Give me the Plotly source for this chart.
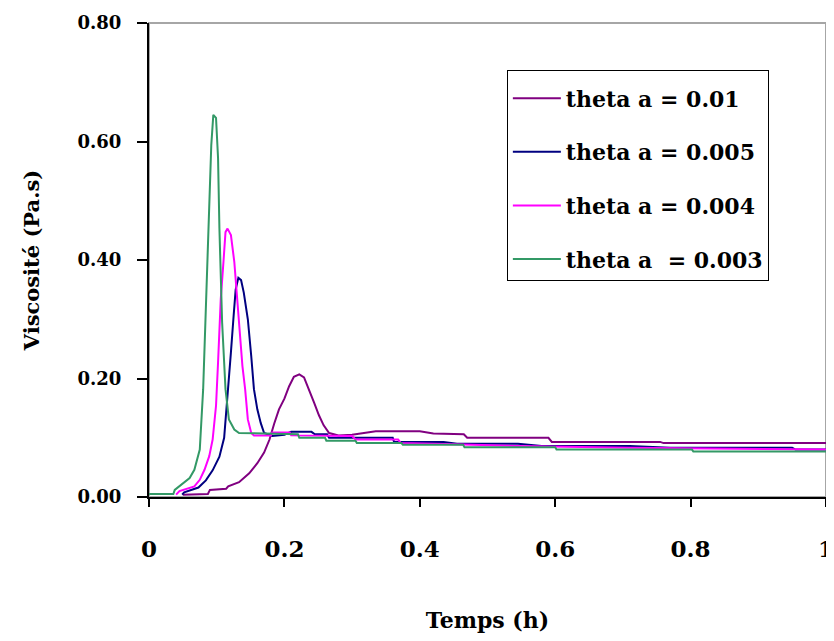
import plotly.graph_objects as go

# ---- data ----
x_001 = [0.050, 0.087, 0.090, 0.114, 0.117, 0.133, 0.148, 0.160, 0.170, 0.178, 0.185, 0.192,
         0.200, 0.207, 0.214, 0.222, 0.229, 0.236, 0.244, 0.251, 0.258, 0.266, 0.280, 0.300,
         0.315, 0.335, 0.400, 0.420, 0.465, 0.470, 0.590, 0.595, 0.755, 0.760, 1.000]
y_001 = [0.004, 0.005, 0.012, 0.014, 0.018, 0.025, 0.040, 0.057, 0.075, 0.097, 0.124, 0.148,
         0.166, 0.187, 0.203, 0.207, 0.202, 0.183, 0.159, 0.138, 0.121, 0.108, 0.104, 0.105,
         0.108, 0.111, 0.111, 0.107, 0.106, 0.100, 0.100, 0.093, 0.093, 0.091, 0.091]

x_0005 = [0.049, 0.052, 0.073, 0.084, 0.094, 0.104, 0.111, 0.116, 0.121, 0.125, 0.128, 0.132,
          0.136, 0.140, 0.146, 0.151, 0.155, 0.160, 0.165, 0.170, 0.182, 0.200, 0.210, 0.240,
          0.245, 0.263, 0.266, 0.360, 0.362, 0.435, 0.455, 0.545, 0.580, 0.710, 0.770, 0.950,
          0.955, 1.000]
y_0005 = [0.004, 0.008, 0.016, 0.028, 0.045, 0.068, 0.100, 0.180, 0.244, 0.306, 0.350, 0.370,
          0.366, 0.345, 0.300, 0.238, 0.182, 0.148, 0.125, 0.108, 0.103, 0.105, 0.110, 0.110,
          0.106, 0.106, 0.100, 0.100, 0.093, 0.093, 0.090, 0.090, 0.086, 0.086, 0.083, 0.083,
          0.080, 0.080]

x_0004 = [0.040, 0.045, 0.067, 0.075, 0.082, 0.089, 0.094, 0.099, 0.102, 0.106, 0.110, 0.113,
          0.116, 0.121, 0.126, 0.130, 0.133, 0.138, 0.142, 0.146, 0.151, 0.155, 0.180, 0.182,
          0.208, 0.210, 0.300, 0.305, 0.368, 0.372, 0.450, 0.545, 0.708, 0.948, 1.000]
y_0004 = [0.004, 0.010, 0.018, 0.029, 0.046, 0.069, 0.097, 0.154, 0.227, 0.334, 0.397, 0.447,
          0.453, 0.442, 0.397, 0.340, 0.295, 0.221, 0.182, 0.131, 0.108, 0.104, 0.104, 0.109,
          0.109, 0.104, 0.103, 0.097, 0.097, 0.091, 0.089, 0.086, 0.083, 0.080, 0.080]

x_0003 = [0.000, 0.036, 0.038, 0.060, 0.067, 0.075, 0.080, 0.084, 0.089, 0.092, 0.095, 0.099,
          0.102, 0.104, 0.108, 0.113, 0.118, 0.126, 0.133, 0.220, 0.222, 0.260, 0.262, 0.305,
          0.307, 0.373, 0.375, 0.464, 0.466, 0.600, 0.602, 0.802, 0.804, 1.000]
y_0003 = [0.005, 0.005, 0.012, 0.032, 0.046, 0.080, 0.182, 0.323, 0.465, 0.594, 0.645, 0.640,
          0.572, 0.453, 0.295, 0.182, 0.131, 0.114, 0.108, 0.106, 0.100, 0.100, 0.095, 0.095,
          0.091, 0.091, 0.088, 0.088, 0.084, 0.084, 0.080, 0.080, 0.077, 0.077]

series_names = ["theta a = 0.01", "theta a = 0.005", "theta a = 0.004", "theta a  = 0.003"]
x_ticks = [0, 0.2, 0.4, 0.6, 0.8, 1]
x_tick_labels = ["0", "0.2", "0.4", "0.6", "0.8", "1"]
y_ticks = [0, 0.2, 0.4, 0.6, 0.8]
y_tick_labels = ["0.00", "0.20", "0.40", "0.60", "0.80"]

colors = ["#800080", "#000080", "#FF00FF", "#339966"]
xs = [x_001, x_0005, x_0004, x_0003]
ys = [y_001, y_0005, y_0004, y_0003]

SERIF = "DejaVu Serif, serif"

fig = go.Figure()
for i, (xv, yv) in enumerate(zip(xs, ys)):
    fig.add_trace(go.Scatter(
        x=xv, y=yv, mode="lines", name=series_names[i],
        line=dict(color=colors[i], width=2),
        legendgroup=f"g{i}",
    ))

fig.update_layout(
    width=826, height=633,
    margin=dict(l=141, r=8, t=15, b=144),
    plot_bgcolor="white", paper_bgcolor="white",
    showlegend=True,
    legend=dict(
        x=0.5286, y=0.901, xanchor="left", yanchor="top",
        bordercolor="black", borderwidth=1, bgcolor="white",
        font=dict(family=SERIF, size=22, color="black", weight="bold"),
        tracegroupgap=22, itemwidth=48,
        title=dict(text="&nbsp;", font=dict(size=5)),
    ),
    shapes=[dict(type="rect", xref="paper", yref="paper", x0=0, x1=1, y0=0, y1=1,
                 line=dict(color="#a6a6a6", width=2), layer="below")],
)

fig.update_xaxes(
    range=[0, 1], tickvals=x_ticks, ticktext=x_tick_labels,
    showline=True, linecolor="black", linewidth=2,
    ticks="outside", ticklen=8, tickwidth=2, tickcolor="black",
    showgrid=False, zeroline=False, automargin=False,
    tickfont=dict(family=SERIF, size=23, color="black", weight="bold"),
    ticklabelstandoff=22, ticklabeloverflow="allow",
    title=dict(text="Temps (h)", font=dict(family=SERIF, size=22, color="black", weight="bold"),
               standoff=52),
)
fig.update_yaxes(
    range=[0, 0.8], tickvals=y_ticks, ticktext=y_tick_labels,
    showline=True, linecolor="black", linewidth=2,
    ticks="outside", ticklen=10, tickwidth=2, tickcolor="black",
    showgrid=False, zeroline=False, automargin=False,
    tickfont=dict(family=SERIF, size=18, color="black", weight="bold"),
    ticklabelstandoff=12,
    title=dict(text="Viscosité (Pa.s)", font=dict(family=SERIF, size=21, color="black", weight="bold"),
               standoff=32),
)

fig.write_html("out.html")
